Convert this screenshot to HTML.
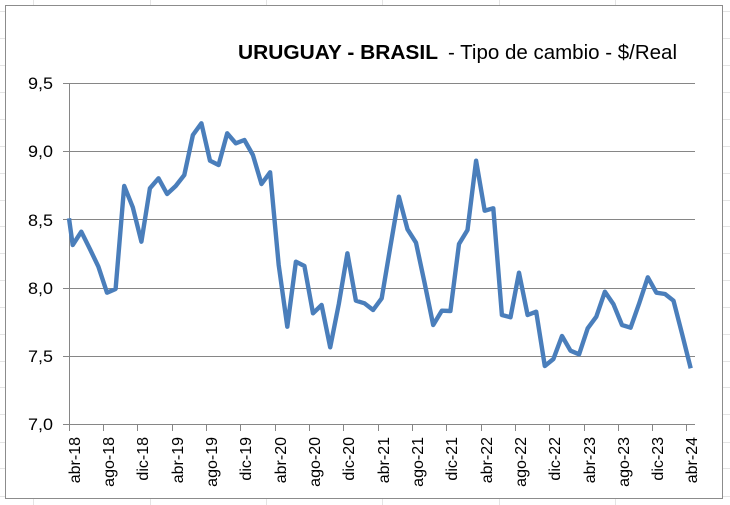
<!DOCTYPE html>
<html><head><meta charset="utf-8"><style>
html,body{margin:0;padding:0;background:#fff;}
svg{display:block;}
text{font-family:"Liberation Sans",sans-serif;fill:#000;}
</style></head><body>
<svg width="730" height="505" viewBox="0 0 730 505" xmlns="http://www.w3.org/2000/svg">
<rect x="0" y="0" width="730" height="505" fill="#fff"/>
<g stroke="#e4e4e4" stroke-width="1">
<line x1="33.5" y1="0" x2="33.5" y2="505"/>
<line x1="150.5" y1="0" x2="150.5" y2="505"/>
<line x1="266.5" y1="0" x2="266.5" y2="505"/>
<line x1="382.5" y1="0" x2="382.5" y2="505"/>
<line x1="499.5" y1="0" x2="499.5" y2="505"/>
<line x1="615.5" y1="0" x2="615.5" y2="505"/>
<line x1="0" y1="11.5" x2="730" y2="11.5"/>
<line x1="0" y1="38.5" x2="730" y2="38.5"/>
<line x1="0" y1="65.5" x2="730" y2="65.5"/>
<line x1="0" y1="92.5" x2="730" y2="92.5"/>
<line x1="0" y1="119.5" x2="730" y2="119.5"/>
<line x1="0" y1="146.5" x2="730" y2="146.5"/>
<line x1="0" y1="173.5" x2="730" y2="173.5"/>
<line x1="0" y1="200.5" x2="730" y2="200.5"/>
<line x1="0" y1="226.5" x2="730" y2="226.5"/>
<line x1="0" y1="253.5" x2="730" y2="253.5"/>
<line x1="0" y1="280.5" x2="730" y2="280.5"/>
<line x1="0" y1="307.5" x2="730" y2="307.5"/>
<line x1="0" y1="334.5" x2="730" y2="334.5"/>
<line x1="0" y1="361.5" x2="730" y2="361.5"/>
<line x1="0" y1="387.5" x2="730" y2="387.5"/>
<line x1="0" y1="414.5" x2="730" y2="414.5"/>
<line x1="0" y1="442.5" x2="730" y2="442.5"/>
<line x1="0" y1="468.5" x2="730" y2="468.5"/>
<line x1="0" y1="496.5" x2="730" y2="496.5"/>
</g>
<rect x="5.5" y="5.5" width="717" height="493" fill="#fff" stroke="#8c8c8c" stroke-width="1"/>

<text x="238" y="59" font-size="20" font-weight="bold" textLength="200" lengthAdjust="spacingAndGlyphs">URUGUAY - BRASIL</text>
<text x="448" y="59" font-size="20" textLength="229" lengthAdjust="spacingAndGlyphs">- Tipo de cambio - $/Real</text>

<g stroke="#868686" stroke-width="1">
<line x1="63" y1="83.5" x2="695" y2="83.5"/>
<line x1="63" y1="151.5" x2="695" y2="151.5"/>
<line x1="63" y1="219.5" x2="695" y2="219.5"/>
<line x1="63" y1="288.5" x2="695" y2="288.5"/>
<line x1="63" y1="356.5" x2="695" y2="356.5"/>
<line x1="63" y1="424.5" x2="695" y2="424.5"/>
<line x1="69.5" y1="83" x2="69.5" y2="424"/>
<line x1="69.5" y1="424" x2="69.5" y2="431"/>
<line x1="103.5" y1="424" x2="103.5" y2="431"/>
<line x1="137.5" y1="424" x2="137.5" y2="431"/>
<line x1="172.5" y1="424" x2="172.5" y2="431"/>
<line x1="206.5" y1="424" x2="206.5" y2="431"/>
<line x1="240.5" y1="424" x2="240.5" y2="431"/>
<line x1="275.5" y1="424" x2="275.5" y2="431"/>
<line x1="309.5" y1="424" x2="309.5" y2="431"/>
<line x1="343.5" y1="424" x2="343.5" y2="431"/>
<line x1="378.5" y1="424" x2="378.5" y2="431"/>
<line x1="412.5" y1="424" x2="412.5" y2="431"/>
<line x1="446.5" y1="424" x2="446.5" y2="431"/>
<line x1="481.5" y1="424" x2="481.5" y2="431"/>
<line x1="515.5" y1="424" x2="515.5" y2="431"/>
<line x1="549.5" y1="424" x2="549.5" y2="431"/>
<line x1="584.5" y1="424" x2="584.5" y2="431"/>
<line x1="618.5" y1="424" x2="618.5" y2="431"/>
<line x1="652.5" y1="424" x2="652.5" y2="431"/>
<line x1="686.5" y1="424" x2="686.5" y2="431"/>
</g>

<g font-size="16.5" text-anchor="end">
<text x="53" y="89" textLength="25" lengthAdjust="spacingAndGlyphs">9,5</text>
<text x="53" y="157" textLength="25" lengthAdjust="spacingAndGlyphs">9,0</text>
<text x="53" y="226" textLength="25" lengthAdjust="spacingAndGlyphs">8,5</text>
<text x="53" y="294" textLength="25" lengthAdjust="spacingAndGlyphs">8,0</text>
<text x="53" y="362" textLength="25" lengthAdjust="spacingAndGlyphs">7,5</text>
<text x="53" y="430" textLength="25" lengthAdjust="spacingAndGlyphs">7,0</text>
</g>

<g font-size="16" text-anchor="end">
<text transform="translate(80,437) rotate(-90)">abr-18</text>
<text transform="translate(114,437) rotate(-90)">ago-18</text>
<text transform="translate(148,437) rotate(-90)">dic-18</text>
<text transform="translate(183,437) rotate(-90)">abr-19</text>
<text transform="translate(217,437) rotate(-90)">ago-19</text>
<text transform="translate(251,437) rotate(-90)">dic-19</text>
<text transform="translate(286,437) rotate(-90)">abr-20</text>
<text transform="translate(320,437) rotate(-90)">ago-20</text>
<text transform="translate(354,437) rotate(-90)">dic-20</text>
<text transform="translate(389,437) rotate(-90)">abr-21</text>
<text transform="translate(423,437) rotate(-90)">ago-21</text>
<text transform="translate(457,437) rotate(-90)">dic-21</text>
<text transform="translate(492,437) rotate(-90)">abr-22</text>
<text transform="translate(526,437) rotate(-90)">ago-22</text>
<text transform="translate(560,437) rotate(-90)">dic-22</text>
<text transform="translate(595,437) rotate(-90)">abr-23</text>
<text transform="translate(629,437) rotate(-90)">ago-23</text>
<text transform="translate(663,437) rotate(-90)">dic-23</text>
<text transform="translate(697,437) rotate(-90)">abr-24</text>
</g>

<polyline fill="none" stroke="#4a7ebb" stroke-width="4.4" stroke-linejoin="round" stroke-linecap="butt" points="
69,218.3 72.7,245 81.3,231.7 89.9,249 98.4,266.7 107,292.7 115.6,289 124.2,186 132.8,207.3 141.4,241.7
149.9,188.3 158.5,178.3 167.1,194 175.7,186 184.3,175 192.9,135 201.4,123.3 210,160.7 218.6,165 227.2,133.3
235.8,143.3 244.4,140 252.9,155 261.5,184 270.1,172.3 278.7,265 287.3,326.7 295.9,261.7 304.4,266 313,313.3
321.6,305 330.2,347.3 338.8,304 347.4,253.3 355.9,300.7 364.5,303.3 373.1,310 381.7,298.3 390.3,247 398.9,196.7
407.5,229.3 416,242.7 424.6,283 433.2,325 441.8,310.7 450.4,311 459,244 467.5,230 476.1,160.7 484.7,210.7
493.3,208.3 501.9,315 510.5,317.3 519,272.7 527.6,315 536.2,311.7 544.8,366 553.4,359 562,336 570.5,350.7
579.1,354.3 587.7,328.3 596.3,316.7 604.9,291.7 613.5,304.3 622,325 630.6,327.7 639.2,303.3 647.8,277.3 656.4,292.7
665,294 673.5,300.7 682.1,334 690.7,368.3"/>
</svg>
</body></html>
